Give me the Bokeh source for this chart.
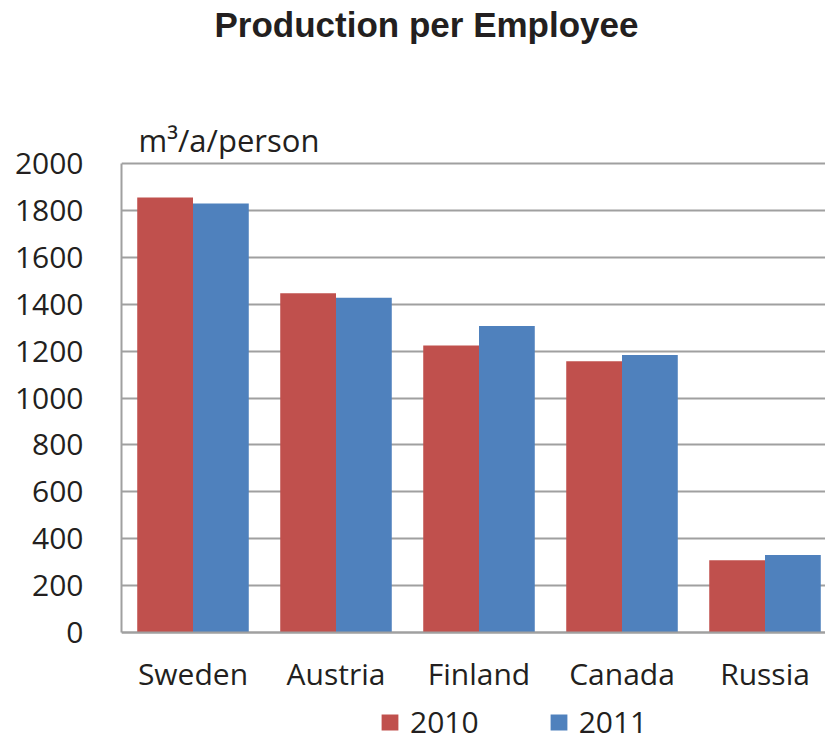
from bokeh.plotting import figure
from bokeh.models import Range1d, FixedTicker, Label, Legend, LegendItem
from bokeh.embed import file_html
from bokeh.resources import INLINE

# ---- data ----
categories = ["Sweden", "Austria", "Finland", "Canada", "Russia"]
series_names = ["2010", "2011"]
values_2010 = [1855, 1447, 1224, 1157, 308]
values_2011 = [1829, 1427, 1307, 1183, 330]
y_ticks = [0, 200, 400, 600, 800, 1000, 1200, 1400, 1600, 1800, 2000]
unit_label = "m³/a/person"
title_text = "Production per Employee"

RED = "#C0504D"
BLUE = "#4F81BD"
GRID = "#A0A0A0"
TXT = "#231F20"
FONT = "Open Sans"

W, H = 825, 742
PX = 469.0 / 2000.0          # pixels per unit on the value axis
y_lo = -(H - 632) / PX       # room below zero for labels and legend
y_hi = 2000 + 163 / PX       # room above the top for the titles

p = figure(width=W, height=H, output_backend="svg", toolbar_location=None,
           x_range=Range1d(0, 4.923), y_range=Range1d(y_lo, y_hi),
           min_border_left=121, min_border_right=0, min_border_top=0,
           min_border_bottom=0, title=None)
p.outline_line_color = None
p.background_fill_color = "white"
p.border_fill_color = "white"

centers = [i + 0.5 for i in range(len(categories))]
bw = 0.39
x10 = [c - bw / 2 for c in centers]
x11 = [c + bw / 2 for c in centers]

r1 = p.vbar(x=x10, top=values_2010, width=bw, bottom=0, fill_color=RED, line_color=None)
r2 = p.vbar(x=x11, top=values_2011, width=bw, bottom=0, fill_color=BLUE, line_color=None)

# grid
p.xgrid.visible = False
p.ygrid.grid_line_color = GRID
p.ygrid.grid_line_width = 2
p.yaxis.ticker = FixedTicker(ticks=y_ticks)
p.ygrid.ticker = FixedTicker(ticks=y_ticks)

# axes
for ax in (p.xaxis[0], p.yaxis[0]):
    ax.axis_line_color = GRID
    ax.axis_line_width = 2
    ax.major_tick_line_color = None
    ax.minor_tick_line_color = None
    ax.major_tick_out = 0
    ax.major_tick_in = 0
    ax.major_label_text_font = FONT
    ax.major_label_text_font_size = "30px"
    ax.major_label_text_color = TXT

p.yaxis.bounds = (0, 2000)
p.yaxis.major_label_standoff = 38
p.xaxis.fixed_location = 0
p.xaxis.ticker = FixedTicker(ticks=centers)
p.xaxis.major_label_overrides = {c: name for c, name in zip(centers, categories)}
p.xaxis.major_label_standoff = 20

# titles
p.add_layout(Label(x=305, y=718, x_units="screen", y_units="screen", text=title_text,
                   text_align="center", text_baseline="alphabetic",
                   text_font="Liberation Sans", text_font_size="35px",
                   text_font_style="bold", text_color=TXT))
p.add_layout(Label(x=17, y=603, x_units="screen", y_units="screen", text=unit_label,
                   text_align="left", text_baseline="alphabetic",
                   text_font=FONT, text_font_size="31px", text_color=TXT))

legend = Legend(items=[LegendItem(label=series_names[0], renderers=[r1]),
                       LegendItem(label=series_names[1], renderers=[r2])],
                orientation="horizontal", location=(258, 0),
                glyph_width=21, glyph_height=20, label_standoff=10, spacing=69,
                padding=0, margin=0, border_line_color=None, background_fill_alpha=0,
                label_text_font=FONT, label_text_font_size="30px", label_text_color=TXT)
p.add_layout(legend, "center")

open("out.html", "w").write(file_html(p, INLINE))
